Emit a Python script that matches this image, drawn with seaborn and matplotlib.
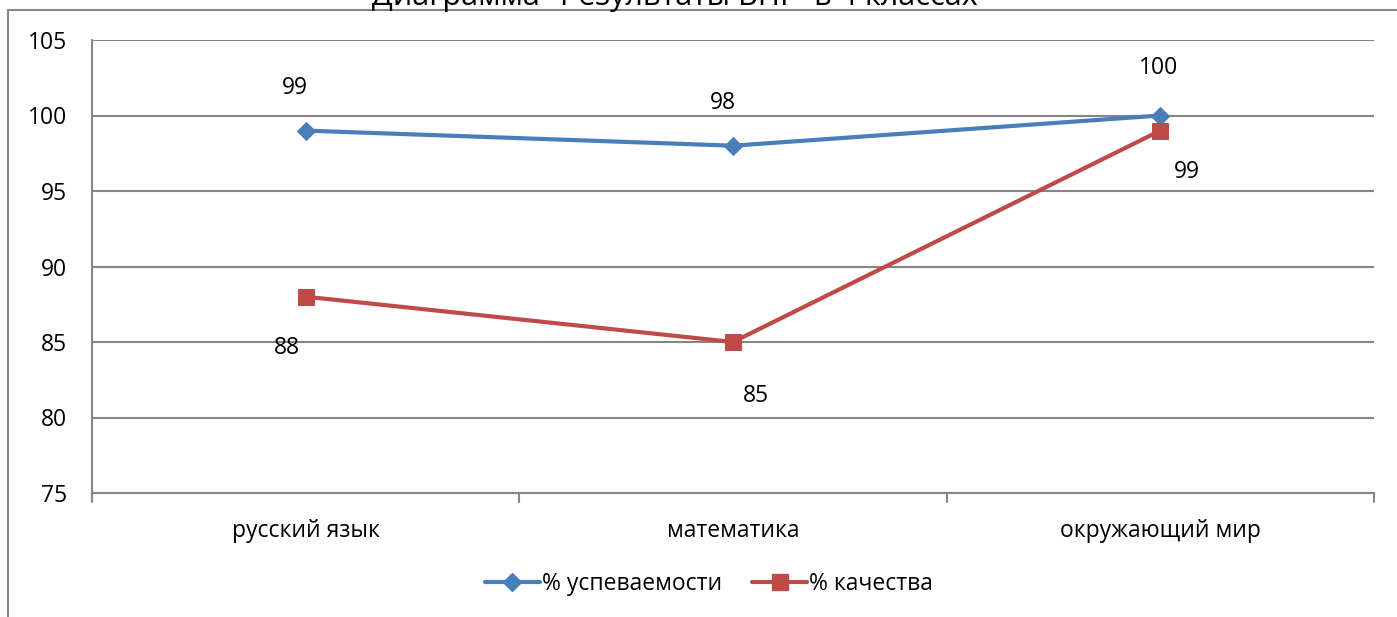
import pandas as pd
import seaborn as sns
import matplotlib.pyplot as plt
from matplotlib.lines import Line2D

# data
subjects = ["русский язык", "математика", "окружающий мир"]
uspev = [99, 98, 100]
kach = [88, 85, 99]
series_names = ["% успеваемости", "% качества"]
title = 'Диаграмма "Результаты ВПР  в 4 классах"'

df = pd.DataFrame({
    "subject": subjects * 2,
    "value": uspev + kach,
    "series": [series_names[0]] * 3 + [series_names[1]] * 3,
})

sns.set_style("white")
plt.rcParams["font.family"] = ["Open Sans", "DejaVu Sans"]
plt.rcParams["text.color"] = "black"
plt.rcParams["xtick.color"] = "black"
plt.rcParams["ytick.color"] = "black"

blue = "#4A7EBB"
red = "#BE4B48"
grey = "#868686"
fs = 16.5

fig = plt.figure(figsize=(13.97, 6.17), dpi=100)
ax = fig.add_axes([92 / 1397, 1 - 493 / 617, (1374 - 92) / 1397, (493 - 40) / 617])

sns.lineplot(data=df[df.series == series_names[0]], x="subject", y="value",
             color=blue, lw=3, marker="D", markersize=9, markeredgecolor=blue,
             ax=ax, legend=False)
sns.lineplot(data=df[df.series == series_names[1]], x="subject", y="value",
             color=red, lw=3, marker="s", markersize=11, markeredgecolor=red,
             ax=ax, legend=False)

ax.set_xlim(-0.5, 2.5)
ax.set_ylim(75, 105)
ax.set_yticks(range(75, 106, 5))
ax.set_xticks([0, 1, 2])
ax.set_xticklabels(subjects)
ax.set_xlabel("")
ax.set_ylabel("")
ax.grid(axis="y", color=grey, lw=1.5)
ax.set_axisbelow(True)
for s in ["top", "right"]:
    ax.spines[s].set_visible(False)
ax.spines["left"].set_color(grey)
ax.spines["bottom"].set_color(grey)
ax.spines["left"].set_linewidth(1.5)
ax.spines["bottom"].set_linewidth(1.5)
ax.tick_params(axis="y", length=6, width=1.5, color=grey, labelsize=fs, pad=12)
ax.tick_params(axis="x", length=0, labelsize=fs, pad=19)
# category boundary ticks
for xb in [-0.5, 0.5, 1.5, 2.5]:
    ax.plot([xb, xb], [0, -0.02], transform=ax.get_xaxis_transform(),
            color=grey, lw=1.5, clip_on=False)

# data labels
off_u = [(-11, 43), (-10, 43), (-2, 48)]
off_k = [(-19, -51), (23, -54), (27, -41)]
for i in range(3):
    ax.annotate(str(uspev[i]), (i, uspev[i]), xytext=off_u[i], textcoords="offset pixels",
                ha="center", va="center", fontsize=fs)
    ax.annotate(str(kach[i]), (i, kach[i]), xytext=off_k[i], textcoords="offset pixels",
                ha="center", va="center", fontsize=fs)

handles = [
    Line2D([], [], color=blue, lw=3, marker="D", markersize=9),
    Line2D([], [], color=red, lw=3, marker="s", markersize=11),
]
fig.legend(handles, series_names, loc="center", bbox_to_anchor=(709 / 1397, 1 - 584 / 617),
           ncol=2, frameon=False, fontsize=fs, handlelength=2.4, columnspacing=1.3,
           handletextpad=0.1)

# chart frame and title (top part is cut off, as in the source picture)
fig.add_artist(Line2D([8 / 1397, 1], [1 - 10 / 617, 1 - 10 / 617], color=grey, lw=1.5))
fig.add_artist(Line2D([8 / 1397, 8 / 1397], [0, 1 - 10 / 617], color=grey, lw=1.5))
fig.text(681 / 1397, 1 - 5 / 617, title, ha="center", va="baseline", fontsize=22)

plt.savefig("out.png", dpi=100)
